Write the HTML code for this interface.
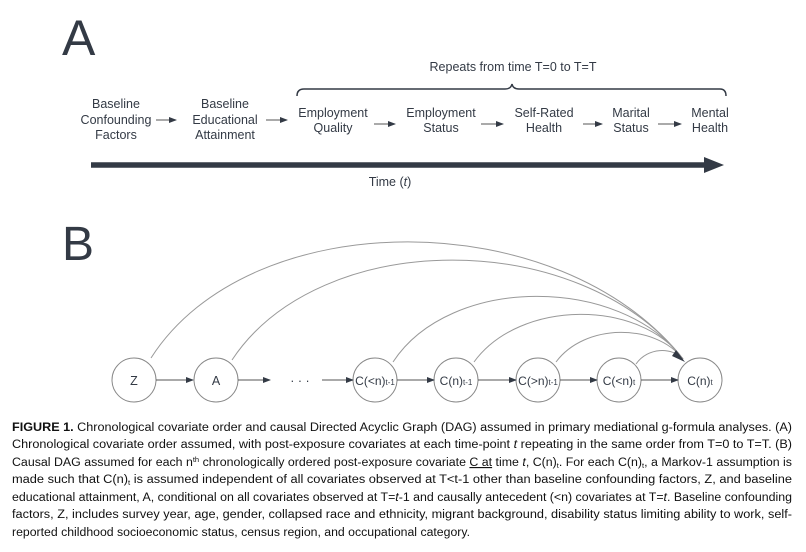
<!DOCTYPE html>
<html><head><meta charset="utf-8"><style>
html,body{margin:0;padding:0;background:#fff;}
body{width:806px;height:552px;position:relative;overflow:hidden;}
svg{position:absolute;left:0;top:0;}
</style></head><body>
<svg width="806" height="552" viewBox="0 0 806 552" font-family="Liberation Sans, sans-serif">
<defs>
<marker id="ar" markerWidth="8" markerHeight="8" refX="7" refY="4" orient="auto" markerUnits="userSpaceOnUse"><path d="M0,1 L8,4 L0,7 z" fill="#333a45"/></marker>
</defs>
<text x="62" y="55" font-size="50" fill="#333a45">A</text>
<text x="62" y="260" font-size="48" fill="#333a45">B</text>
<g font-size="12.5" fill="#333a45" text-anchor="middle">
<text x="116" y="108">Baseline</text><text x="116" y="124">Confounding</text><text x="116" y="139">Factors</text>
<text x="225" y="108">Baseline</text><text x="225" y="124">Educational</text><text x="225" y="139">Attainment</text>
<text x="333" y="117">Employment</text><text x="333" y="132">Quality</text>
<text x="441" y="117">Employment</text><text x="441" y="132">Status</text>
<text x="544" y="117">Self-Rated</text><text x="544" y="132">Health</text>
<text x="631" y="117">Marital</text><text x="631" y="132">Status</text>
<text x="710" y="117">Mental</text><text x="710" y="132">Health</text>
<text x="513" y="71">Repeats from time T=0 to T=T</text>
<text x="390" y="186">Time (<tspan font-style="italic">t</tspan>)</text>
</g>
<g stroke="#555" stroke-width="1" fill="none" marker-end="url(#ar)">
<line x1="156" y1="120" x2="176" y2="120"/>
<line x1="266" y1="120" x2="287" y2="120"/>
<line x1="374" y1="124" x2="395" y2="124"/>
<line x1="481" y1="124" x2="503" y2="124"/>
<line x1="583" y1="124" x2="602" y2="124"/>
<line x1="658" y1="124" x2="681" y2="124"/>
</g>
<path d="M297,96 Q297,89 304,89 L505,89 Q511,89 512,84 Q513,89 519,89 L720,89 Q726,89 726,96" stroke="#333a45" stroke-width="1.5" fill="none"/>
<line x1="91" y1="165" x2="706" y2="165" stroke="#333a45" stroke-width="5.5"/>
<path d="M704,157 L724,165 L704,173 z" fill="#333a45"/>
<g stroke="#888" stroke-width="1" fill="#fff">
<circle cx="134" cy="380" r="22"/><circle cx="216" cy="380" r="22"/>
<circle cx="375" cy="380" r="22"/><circle cx="456" cy="380" r="22"/>
<circle cx="538" cy="380" r="22"/><circle cx="619" cy="380" r="22"/>
<circle cx="700" cy="380" r="22"/>
</g>
<g stroke="#999" stroke-width="1" fill="none">
<path d="M151,358 C250,203 560,203 683,359"/>
<path d="M232,360 C320,227 580,227 683,359"/>
<path d="M393,362 C450,275 620,275 683,359"/>
<path d="M474,362 C520,299 640,299 683,359"/>
<path d="M556,362 C585,323 655,323 683,359"/>
<path d="M636,364 C648,347 672,347 683,359"/>
</g>
<path d="M676,350 L685,362 L672,356 z" fill="#333a45"/>
<g stroke="#555" stroke-width="1" fill="none" marker-end="url(#ar)">
<line x1="156" y1="380" x2="193" y2="380"/>
<line x1="238" y1="380" x2="270" y2="380"/>
<line x1="322" y1="380" x2="353" y2="380"/>
<line x1="397" y1="380" x2="434" y2="380"/>
<line x1="478" y1="380" x2="516" y2="380"/>
<line x1="560" y1="380" x2="597" y2="380"/>
<line x1="641" y1="380" x2="678" y2="380"/>
</g>
<g font-size="12.5" fill="#333a45" text-anchor="middle">
<text x="134" y="385">Z</text><text x="216" y="385">A</text>
<text x="300" y="385">· · ·</text>
<text x="375" y="385" font-size="12">C(&lt;n)<tspan font-size="8">t-1</tspan></text>
<text x="456" y="385" font-size="12">C(n)<tspan font-size="8">t-1</tspan></text>
<text x="538" y="385" font-size="12">C(&gt;n)<tspan font-size="8">t-1</tspan></text>
<text x="619" y="385" font-size="12">C(&lt;n)<tspan font-size="8">t</tspan></text>
<text x="700" y="385" font-size="12">C(n)<tspan font-size="8">t</tspan></text>
</g>
<g font-size="11.5" fill="#111">
<text x="12" y="431" textLength="780" lengthAdjust="spacingAndGlyphs"><tspan font-weight="bold">FIGURE 1.</tspan>  Chronological covariate order and causal Directed Acyclic Graph (DAG) assumed in primary mediational g-formula analyses. (A)</text>
<text x="12" y="448" textLength="780" lengthAdjust="spacingAndGlyphs">Chronological covariate order assumed, with post-exposure covariates at each time-point <tspan font-style="italic">t</tspan> repeating in the same order from T=0 to T=T. (B)</text>
<text x="12" y="466" textLength="780" lengthAdjust="spacingAndGlyphs">Causal DAG assumed for each n<tspan font-size="7" dy="-4">th</tspan><tspan dy="4"> chronologically ordered post-exposure covariate </tspan><tspan text-decoration="underline">C at</tspan> time <tspan font-style="italic">t</tspan>, C(n)<tspan font-size="7" dy="2">t</tspan><tspan dy="-2">. For each C(n)</tspan><tspan font-size="7" dy="2">t</tspan><tspan dy="-2">, a Markov-1 assumption is</tspan></text>
<text x="12" y="483" textLength="780" lengthAdjust="spacingAndGlyphs">made such that C(n)<tspan font-size="7" dy="2">t</tspan><tspan dy="-2"> is assumed independent of all covariates observed at T&lt;t-1 other than baseline confounding factors, Z, and baseline</tspan></text>
<text x="12" y="501" textLength="780" lengthAdjust="spacingAndGlyphs">educational attainment, A, conditional on all covariates observed at T=<tspan font-style="italic">t</tspan>-1 and causally antecedent (&lt;n) covariates at T=<tspan font-style="italic">t</tspan>. Baseline confounding</text>
<text x="12" y="518" textLength="780" lengthAdjust="spacingAndGlyphs">factors, Z, includes survey year, age, gender, collapsed race and ethnicity, migrant background, disability status limiting ability to work, self-</text>
<text x="12" y="536" textLength="458" lengthAdjust="spacingAndGlyphs">reported childhood socioeconomic status, census region, and occupational category.</text>
</g>
</svg>
</body></html>
